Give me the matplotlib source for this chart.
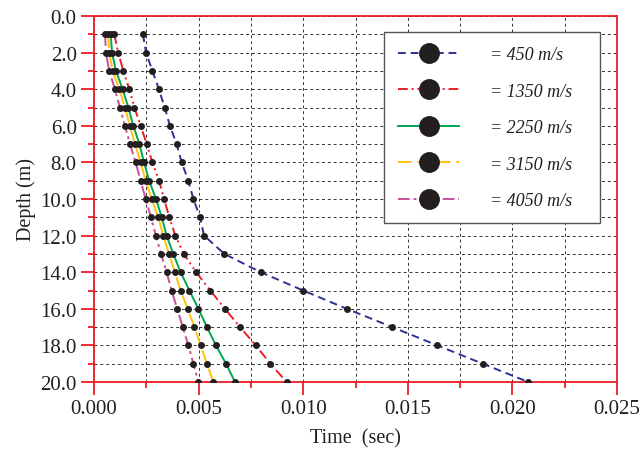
import matplotlib
matplotlib.use("Agg")
import matplotlib.pyplot as plt
from matplotlib.lines import Line2D
from matplotlib.ticker import MultipleLocator, FormatStrFormatter

depth = [1, 2, 3, 4, 5, 6, 7, 8, 9, 10, 11, 12, 13, 14, 15, 16, 17, 18, 19, 20]

t_450 = [0.00234, 0.00249, 0.00279, 0.00310, 0.00338, 0.00363, 0.00395, 0.00419, 0.00451, 0.00475,
         0.00507, 0.00526, 0.00623, 0.00797, 0.01000, 0.01208, 0.01426, 0.01641, 0.01858, 0.02076]
t_1350 = [0.00097, 0.00116, 0.00140, 0.00169, 0.00193, 0.00223, 0.00252, 0.00279, 0.00311, 0.00335,
          0.00360, 0.00389, 0.00429, 0.00488, 0.00556, 0.00626, 0.00698, 0.00773, 0.00843, 0.00921]
t_2250 = [0.00080, 0.00086, 0.00105, 0.00137, 0.00164, 0.00188, 0.00217, 0.00239, 0.00264, 0.00296,
          0.00324, 0.00347, 0.00379, 0.00414, 0.00456, 0.00499, 0.00540, 0.00583, 0.00631, 0.00674]
t_3150 = [0.00068, 0.00073, 0.00089, 0.00121, 0.00148, 0.00172, 0.00196, 0.00223, 0.00247, 0.00276,
          0.00307, 0.00331, 0.00358, 0.00387, 0.00414, 0.00448, 0.00480, 0.00510, 0.00540, 0.00570]
t_4050 = [0.00053, 0.00057, 0.00073, 0.00100, 0.00124, 0.00148, 0.00172, 0.00199, 0.00223, 0.00247,
          0.00272, 0.00296, 0.00320, 0.00347, 0.00371, 0.00398, 0.00424, 0.00451, 0.00475, 0.00499]

labels = ["= 450 m/s", "= 1350 m/s", "= 2250 m/s", "= 3150 m/s", "= 4050 m/s"]
series = [t_450, t_1350, t_2250, t_3150, t_4050]
colors = ["#2E3192", "#ED1C24", "#00A651", "#FFC20E", "#C8509B"]
styles = [(0, (4, 2.5)), (0, (5, 2, 1, 2, 1, 2)), "-", (0, (7, 3)), (0, (6, 2, 1.5, 2))]

plt.rcParams['font.family'] = ['Liberation Serif', 'DejaVu Serif']

fig = plt.figure(figsize=(6.44, 4.52), dpi=100)
ax = fig.add_axes([94/644, 1-383/452, (617-94)/644, (383-17)/452])

for t, c, ls in zip(series, colors, styles):
    ax.plot(t, depth, color=c, linestyle=ls, linewidth=1.4, zorder=3)
    ax.plot(t, depth, linestyle='none', marker='o', markersize=4.0,
            color='#231F20', zorder=4)

ax.set_xlim(0, 0.025)
ax.set_ylim(20, 0)
ax.xaxis.set_major_locator(MultipleLocator(0.005))
ax.xaxis.set_minor_locator(MultipleLocator(0.0025))
ax.yaxis.set_major_locator(MultipleLocator(2))
ax.yaxis.set_minor_locator(MultipleLocator(1))
ax.xaxis.set_major_formatter(FormatStrFormatter('%.3f'))
ax.yaxis.set_major_formatter(FormatStrFormatter('%.1f'))

ax.grid(True, which='both', color='#333333', linestyle=(0, (3, 3)), linewidth=0.7, zorder=1)
ax.set_axisbelow(True)

for s in ax.spines.values():
    s.set_color('#ED1C24')
    s.set_linewidth(1.3)

ax.tick_params(axis='both', which='major', direction='out', length=9.5, width=1.3,
               color='#ED1C24', labelsize=15, labelcolor='#231F20', pad=3)
ax.tick_params(axis='both', which='minor', direction='out', length=4.5, width=1.3,
               color='#ED1C24')

ax.set_xlabel("Time  (sec)", fontsize=14.5, color='#231F20', labelpad=7)
ax.set_ylabel("Depth (m)", fontsize=14.5, color='#231F20', labelpad=3)

handles = [Line2D([0], [0], color=c, linestyle=ls, linewidth=1.4, marker='o',
                  markersize=14, markerfacecolor='#231F20', markeredgecolor='#231F20')
           for c, ls in zip(colors, styles)]
leg = ax.legend(handles, labels, loc='upper left',
                bbox_to_anchor=((384-94)/523, 0.0, (600-384)/523, 1-(33-17)/366),
                mode='expand', borderaxespad=0,
                prop={'family': 'Liberation Serif', 'style': 'italic', 'size': 13},
                handlelength=3.4, handletextpad=1.7, labelspacing=1.08,
                borderpad=0.78, fancybox=False, framealpha=1, edgecolor='#555555')
leg.get_frame().set_linewidth(1.0)
for txt in leg.get_texts():
    txt.set_color('#231F20')

fig.savefig("out.png", dpi=100)
